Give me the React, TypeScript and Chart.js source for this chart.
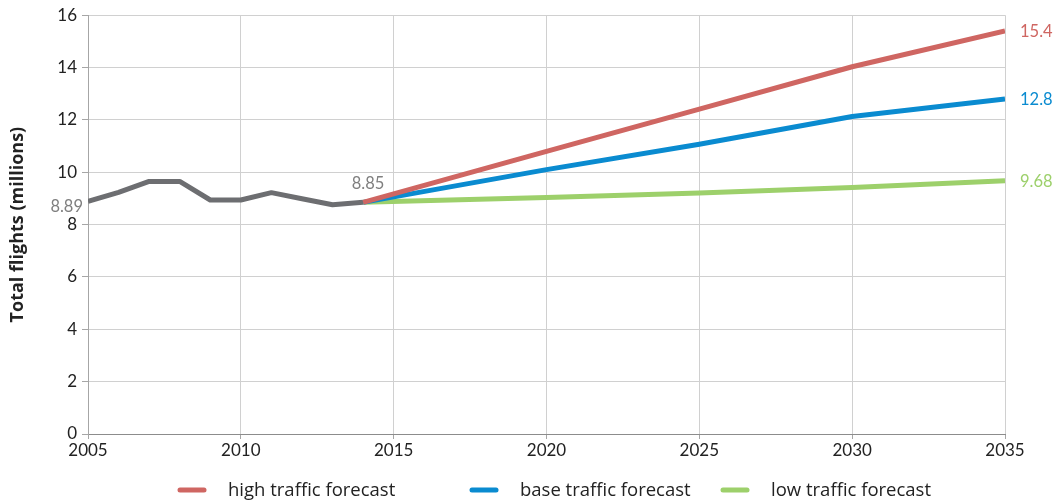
import React, { useEffect, useRef } from "react";
import { Chart, registerables } from "chart.js";

Chart.register(...registerables);

const historyYears = [2005, 2006, 2007, 2008, 2009, 2010, 2011, 2012, 2013, 2014];
const historyValues = [8.89, 9.23, 9.65, 9.65, 8.94, 8.94, 9.22, 8.99, 8.76, 8.85];

const forecastYears = [2014, 2020, 2025, 2030, 2035];
const highValues = [8.85, 10.8, 12.41, 14.03, 15.4];
const baseValues = [8.85, 10.1, 11.07, 12.13, 12.8];
const lowValues = [8.85, 9.04, 9.21, 9.42, 9.68];

const seriesNames = ["history", "high traffic forecast", "base traffic forecast", "low traffic forecast"];
const seriesColors = ["#6d6e71", "#cf6662", "#0a8bd0", "#9dd06b"];
const endLabels = ["15.4", "12.8", "9.68"];
const startLabel = "8.89";
const joinLabel = "8.85";
const yAxisTitle = "Total flights (millions)";

const toPoints = (xs: number[], ys: number[]) => xs.map((x, i) => ({ x, y: ys[i] }));

const labelPlugin = {
  id: "valueLabels",
  afterDatasetsDraw(chart: any) {
    const { ctx, scales } = chart;
    const xs = scales.x;
    const ys = scales.y;
    ctx.save();
    ctx.font = "16.5px Lato, 'Open Sans', sans-serif";
    ctx.textBaseline = "middle";
    ctx.fillStyle = "#7f7f7f";
    ctx.textAlign = "right";
    ctx.fillText(startLabel, xs.getPixelForValue(historyYears[0]) - 5, ys.getPixelForValue(historyValues[0]) + 5);
    const lastIdx = historyYears.length - 1;
    ctx.textAlign = "center";
    ctx.fillText(joinLabel, xs.getPixelForValue(historyYears[lastIdx]) + 5, ys.getPixelForValue(historyValues[lastIdx]) - 19);
    ctx.textAlign = "left";
    const finals = [highValues, baseValues, lowValues];
    finals.forEach((vals, i) => {
      ctx.fillStyle = seriesColors[i + 1];
      ctx.fillText(endLabels[i], xs.getPixelForValue(forecastYears[forecastYears.length - 1]) + 15, ys.getPixelForValue(vals[vals.length - 1]) + 1);
    });
    ctx.font = "18.5px 'Liberation Sans Narrow', 'Open Sans', sans-serif";
    ctx.textAlign = "left";
    const legendY = 490;
    const markerX = [178, 470, 721];
    for (let i = 1; i < seriesNames.length; i++) {
      const mx = markerX[i - 1];
      ctx.strokeStyle = seriesColors[i];
      ctx.lineWidth = 5;
      ctx.lineCap = "round";
      ctx.beginPath();
      ctx.moveTo(mx + 2, legendY);
      ctx.lineTo(mx + 26, legendY);
      ctx.stroke();
      ctx.fillStyle = "#222";
      ctx.fillText(seriesNames[i], mx + 50, legendY + 1);
    }
    ctx.restore();
  },
};

export default function App() {
  const ref = useRef<HTMLCanvasElement | null>(null);
  useEffect(() => {
    if (!ref.current) return;
    const mk = (idx: number, data: any) => ({
      label: seriesNames[idx],
      data,
      borderColor: seriesColors[idx],
      backgroundColor: seriesColors[idx],
      borderWidth: 5,
      pointRadius: 0,
      tension: 0,
      fill: false,
      borderJoinStyle: "round" as const,
    });
    const chart = new Chart(ref.current, {
      type: "line",
      data: {
        datasets: [
          mk(1, toPoints(forecastYears, highValues)),
          mk(2, toPoints(forecastYears, baseValues)),
          mk(3, toPoints(forecastYears, lowValues)),
          mk(0, toPoints(historyYears, historyValues)),
        ],
      },
      options: {
        animation: false,
        responsive: false,
        maintainAspectRatio: false,
        layout: { padding: { top: 14, right: 53, left: 0, bottom: 0 } },
        plugins: { legend: { display: false }, tooltip: { enabled: false } },
        scales: {
          x: {
            type: "linear",
            min: 2005,
            max: 2035,
            ticks: {
              stepSize: 5,
              callback: (v: any) => String(v),
              color: "#222",
              font: { family: "Lato, 'Open Sans', sans-serif", size: 17 },
              padding: 1,
              maxRotation: 0,
            },
            grid: { color: "#d0d0d0", lineWidth: 1, tickLength: 5, tickColor: "#a6a6a6" },
            border: { color: "#8c8c8c", width: 1 },
            afterFit: (s: any) => { s.height = 70; },
          },
          y: {
            min: 0,
            max: 16,
            ticks: {
              stepSize: 2,
              color: "#222",
              font: { family: "Lato, 'Open Sans', sans-serif", size: 17 },
              padding: 5,
            },
            grid: { color: "#d0d0d0", lineWidth: 1, tickLength: 6, tickColor: "#a6a6a6" },
            border: { color: "#a6a6a6", width: 1 },
            title: {
              display: true,
              text: yAxisTitle,
              color: "#222",
              font: { family: "'Open Sans', sans-serif", size: 18, weight: "bold" },
              padding: { top: 7, bottom: 0 },
            },
            afterFit: (s: any) => { s.width = 88; },
          },
        },
      },
      plugins: [labelPlugin],
    });
    return () => chart.destroy();
  }, []);
  return (
    <div style={{ position: "fixed", left: 0, top: 0, width: 1058, height: 504, background: "#fff" }}>
      <canvas ref={ref} width={1058} height={504} style={{ width: 1058, height: 504 }} />
    </div>
  );
}
